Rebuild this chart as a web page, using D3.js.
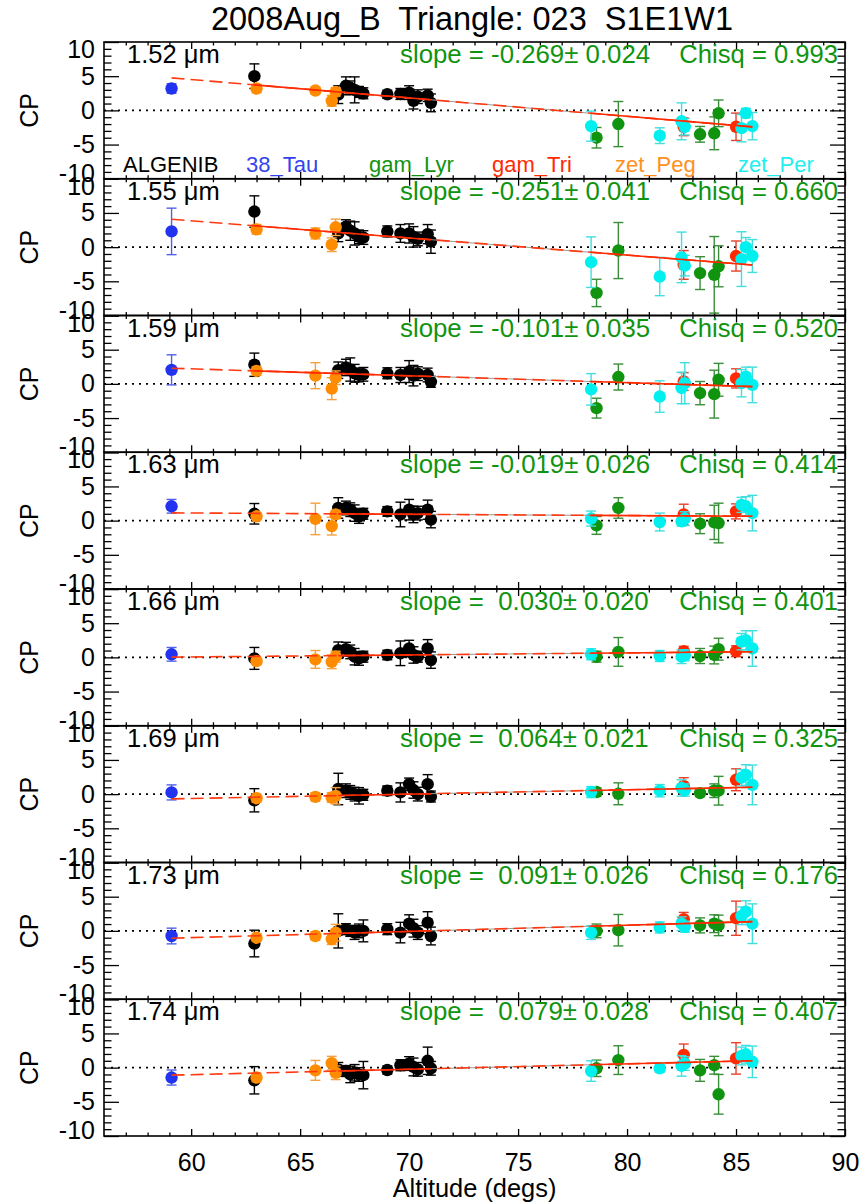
<!DOCTYPE html>
<html>
<head>
<meta charset="utf-8">
<script src="https://cdn.jsdelivr.net/npm/d3@7"></script>
<style>
  body { margin: 0; background: #fff; }
  text { font-family: "Liberation Sans", Arial, Helvetica, sans-serif; }
</style>
</head>
<body>
<div id="chart"></div>
<script>
// star names, in legend order
var stars = ["ALGENIB", "38_Tau", "gam_Lyr", "gam_Tri", "zet_Peg", "zet_Per"];

// altitude of every observation and the star it belongs to
var altitude = [59.1, 62.9, 63.0, 65.7, 66.45, 66.63, 66.75, 67.1, 67.3, 67.5, 67.7, 67.9,
  69.0, 69.6, 70.0, 70.2, 70.4, 70.85, 71.0,
  78.35, 78.6, 79.6, 81.5, 82.5, 82.6, 82.65, 83.35, 84.0, 84.2, 85.0, 85.25, 85.45, 85.75];
var pointStar = ["38_Tau", "ALGENIB", "zet_Peg", "zet_Peg", "zet_Peg", "zet_Peg", "ALGENIB",
  "ALGENIB", "ALGENIB", "ALGENIB", "ALGENIB", "ALGENIB", "ALGENIB", "ALGENIB", "ALGENIB",
  "ALGENIB", "ALGENIB", "ALGENIB", "ALGENIB",
  "zet_Per", "gam_Lyr", "gam_Lyr", "zet_Per", "zet_Per", "gam_Tri", "zet_Per", "gam_Lyr",
  "gam_Lyr", "gam_Lyr", "gam_Tri", "zet_Per", "zet_Per", "zet_Per"];

// one panel per wavelength
var wavelengths = [1.52, 1.55, 1.59, 1.63, 1.66, 1.69, 1.73, 1.74];
var slopes = [-0.269, -0.251, -0.101, -0.019, 0.030, 0.064, 0.091, 0.079];
var slopeErrors = [0.024, 0.041, 0.035, 0.026, 0.020, 0.021, 0.026, 0.028];
var chisq = [0.993, 0.660, 0.520, 0.414, 0.401, 0.325, 0.176, 0.407];
var fitAt70 = [1.82, 1.34, 1.19, 0.93, 0.36, 0.0, -0.08, -0.24];   // fit value at 70 degs
var solidFrom = [62.9, 62.9, 62.9, 66.75, 66.75, 66.75, 66.75, 66.75];

// closure phase (CP) and its error, per panel
var cpValues = [
  [3.2, 5.0, 3.2, 2.9, 1.4, 2.7, 2.3, 3.6, 3.3, 3.0, 2.7, 2.5, 2.35, 2.4, 2.6, 1.4, 2.0, 2.2, 1.1,
   -2.3, -4.0, -2.0, -3.7, -1.6, -2.4, -2.4, -3.5, -3.35, -0.43, -2.4, -2.6, -0.4, -2.3],
  [2.3, 5.2, 2.6, 2.0, 0.35, 2.9, 2.0, 3.0, 2.4, 2.0, 1.5, 1.4, 2.3, 2.0, 2.0, 1.5, 1.2, 1.9, 0.8,
   -2.2, -6.7, -0.5, -4.3, -1.5, -2.6, -2.7, -3.8, -4.05, -2.8, -1.3, -1.75, 0.0, -1.3],
  [2.05, 2.8, 1.9, 1.2, -0.7, 0.9, 2.0, 2.4, 2.1, 1.55, 1.3, 1.4, 1.55, 1.3, 1.8, 1.2, 1.5, 1.3, 0.3,
   -0.8, -3.55, 1.0, -1.85, -0.6, 0.35, 0.1, -1.35, -1.5, 0.6, 0.8, 0.1, 1.05, -0.15],
  [2.1, 1.0, 0.63, 0.25, -0.8, 0.9, 1.85, 1.85, 1.6, 1.1, 0.6, 1.0, 1.35, 0.9, 1.6, 0.9, 1.1, 1.6, 0.15,
   0.3, -0.7, 1.85, -0.2, -0.1, 0.9, 0.3, -0.45, -0.25, -0.35, 1.35, 2.3, 2.1, 1.1],
  [0.45, -0.15, -0.55, -0.3, -0.65, 0.1, 1.05, 1.2, 0.8, 0.1, -0.15, 0.1, 0.35, 0.6, 1.3, 0.35, 0.1, 1.3, -0.4,
   0.45, 0.1, 0.8, 0.2, 0.1, 0.9, 0.3, 0.2, 0.35, 1.2, 0.9, 2.3, 2.5, 1.3],
  [0.25, -0.9, -0.6, -0.4, -0.5, -0.25, 0.75, 0.5, 0.25, 0.0, -0.25, -0.1, 0.5, 0.25, 1.45, 0.6, 0.0, 1.45, -0.35,
   0.3, 0.3, 0.05, 0.5, 0.9, 1.2, 0.6, 0.15, 0.5, 0.5, 2.1, 2.4, 2.8, 1.35],
  [-0.75, -1.85, -1.0, -0.75, -1.2, -0.25, 0.0, 0.25, 0.0, -0.25, 0.0, 0.0, 0.25, -0.25, 1.05, 0.4, -0.25, 1.2, -0.75,
   -0.25, 0.0, 0.1, 0.5, 1.05, 1.7, 0.6, 0.8, 1.05, 0.8, 1.85, 2.2, 2.8, 1.05],
  [-1.45, -1.85, -1.45, -0.4, 0.65, -0.75, -0.25, -0.5, -1.0, -0.75, -1.0, -1.1, -0.35, 0.35, 0.6, 0.1, -0.25, 1.0, -0.1,
   -0.5, -0.1, 1.1, -0.1, 0.25, 1.85, 0.6, -0.4, 0.35, -3.9, 1.35, 1.7, 1.95, 0.85]
];
var cpErrors = [
  [0.7, 1.8, 0.6, 0.5, 0.8, 0.6, 1.3, 1.3, 1.0, 1.9, 0.8, 0.8, 0.6, 0.8, 1.0, 1.2, 1.0, 0.9, 1.3,
   2.2, 1.5, 3.3, 1.15, 2.7, 1.3, 1.2, 1.15, 2.4, 1.95, 2.0, 2.0, 0.7, 2.0],
  [3.4, 2.3, 0.7, 0.8, 1.0, 1.2, 1.2, 1.0, 1.4, 1.7, 1.0, 1.0, 0.8, 1.3, 1.4, 1.5, 1.0, 1.4, 1.7,
   3.7, 2.0, 4.1, 2.8, 3.7, 2.1, 1.5, 2.4, 5.6, 3.0, 2.2, 4.0, 1.4, 2.4],
  [2.2, 1.7, 0.6, 1.9, 1.6, 1.0, 1.2, 1.2, 1.7, 1.3, 1.0, 1.0, 0.8, 1.1, 1.6, 1.5, 1.0, 1.0, 0.8,
   2.3, 1.45, 1.9, 2.3, 2.3, 1.3, 3.0, 1.7, 3.5, 2.4, 1.4, 2.0, 1.4, 2.6],
  [1.0, 1.5, 0.5, 2.3, 1.3, 0.6, 1.5, 1.0, 1.0, 1.2, 1.0, 0.8, 0.7, 1.8, 1.5, 1.2, 1.0, 1.4, 1.2,
   1.1, 1.3, 1.5, 1.3, 0.7, 1.5, 1.0, 1.45, 2.5, 2.9, 1.1, 1.1, 1.4, 2.6],
  [1.0, 1.6, 0.5, 1.3, 1.0, 0.8, 1.2, 1.0, 1.0, 1.2, 1.0, 0.8, 0.7, 1.8, 1.2, 1.2, 0.8, 1.3, 1.2,
   0.8, 0.8, 2.1, 0.8, 1.0, 0.7, 0.8, 1.1, 1.3, 1.6, 0.8, 1.2, 1.4, 2.6],
  [1.1, 1.7, 0.6, 0.6, 0.7, 1.2, 2.3, 1.0, 1.0, 1.0, 1.2, 0.8, 0.7, 1.4, 0.9, 1.2, 1.0, 1.4, 0.8,
   0.8, 0.6, 1.6, 0.9, 1.2, 1.2, 0.9, 0.5, 1.0, 2.1, 1.6, 1.2, 1.5, 2.9],
  [1.15, 1.95, 0.5, 0.6, 0.8, 1.2, 2.5, 0.8, 0.8, 1.0, 1.0, 1.6, 0.8, 1.5, 1.3, 1.3, 1.0, 1.6, 1.3,
   1.0, 1.0, 2.3, 0.8, 1.0, 1.0, 0.8, 1.1, 1.3, 1.5, 2.5, 1.3, 1.6, 2.9],
  [1.1, 2.0, 0.6, 1.45, 1.0, 1.0, 1.0, 0.8, 1.2, 1.2, 1.0, 2.0, 0.6, 0.8, 1.0, 1.3, 1.0, 2.0, 1.0,
   1.5, 1.2, 2.1, 0.6, 1.5, 1.6, 1.0, 1.6, 1.3, 2.9, 2.3, 1.3, 1.3, 2.3]
];

var xTicks = [60, 65, 70, 75, 80, 85, 90];
var yTicks = [-10, -5, 0, 5, 10];

// colours
var starColor = { "ALGENIB": "#000000", "38_Tau": "#2233f0", "gam_Lyr": "#109410",
  "gam_Tri": "#ff2a00", "zet_Peg": "#ff8c00", "zet_Per": "#00f0f0" };
var errColor = { "ALGENIB": "#000000", "38_Tau": "#5060e8", "gam_Lyr": "#3a8e3a",
  "gam_Tri": "#e8402a", "zet_Peg": "#f4a040", "zet_Per": "#40dede" };
var legendColor = { "ALGENIB": "#000000", "38_Tau": "#3344ee", "gam_Lyr": "#109410",
  "gam_Tri": "#ff2a00", "zet_Peg": "#ff9020", "zet_Per": "#22eeee" };
var green = "#109410";

var svgWidth = 867, svgHeight = 1204;
var margin = { top: 42, right: 22, bottom: 68, left: 104 };
var plotW = svgWidth - margin.left - margin.right;
var plotH = svgHeight - margin.top - margin.bottom;
var panelH = plotH / wavelengths.length;

var svg = d3.select("#chart").append("svg")
  .attr("width", svgWidth)
  .attr("height", svgHeight)
  .style("background", "#fff");

var xScale = d3.scaleLinear().domain([56, 90]).range([margin.left, margin.left + plotW]);

// title
svg.append("text")
  .attr("x", 472).attr("y", 30)
  .attr("text-anchor", "middle")
  .attr("font-size", "32.5px")
  .style("white-space", "pre")
  .text("2008Aug_B  Triangle: 023  S1E1W1");

var points = altitude.map(function(a, i) { return { alt: a, star: pointStar[i], idx: i }; });

wavelengths.forEach(function(wl, p) {
  var top = margin.top + p * panelH;
  var bottom = top + panelH;
  var yScale = d3.scaleLinear().domain([-10, 10]).range([bottom, top]);
  var g = svg.append("g");

  // axes: major + minor ticks, pointing inwards
  var minorY = d3.range(-10, 11).filter(function(v) { return v % 5 !== 0; });
  var minorX = d3.range(57, 90).filter(function(v) { return v % 5 !== 0; });

  var yAxisG = g.append("g").attr("transform", "translate(" + margin.left + ",0)")
    .call(d3.axisLeft(yScale).tickValues(yTicks).tickSizeInner(-15).tickSizeOuter(0)
      .tickPadding(9).tickFormat(function(d) { return String(d); }));
  // end labels sit a little inside the frame
  yAxisG.selectAll(".tick text")
    .attr("dy", function(d) { return d === 10 ? "0.62em" : (d === -10 ? "0.1em" : "0.32em"); });

  g.append("g").attr("transform", "translate(" + margin.left + ",0)")
    .call(d3.axisLeft(yScale).tickValues(minorY).tickSizeInner(-7.5).tickSizeOuter(0).tickFormat(""));
  g.append("g").attr("transform", "translate(" + (margin.left + plotW) + ",0)")
    .call(d3.axisRight(yScale).tickValues(yTicks).tickSizeInner(-15).tickSizeOuter(0).tickFormat(""));
  g.append("g").attr("transform", "translate(" + (margin.left + plotW) + ",0)")
    .call(d3.axisRight(yScale).tickValues(minorY).tickSizeInner(-7.5).tickSizeOuter(0).tickFormat(""));

  var last = p === wavelengths.length - 1;
  g.append("g").attr("transform", "translate(0," + bottom + ")")
    .call(d3.axisBottom(xScale).tickValues(xTicks).tickSizeInner(-7).tickSizeOuter(0)
      .tickPadding(17).tickFormat(last ? function(d) { return String(d); } : ""));
  g.append("g").attr("transform", "translate(0," + bottom + ")")
    .call(d3.axisBottom(xScale).tickValues(minorX).tickSizeInner(-3.5).tickSizeOuter(0).tickFormat(""));
  g.append("g").attr("transform", "translate(0," + top + ")")
    .call(d3.axisTop(xScale).tickValues(xTicks).tickSizeInner(-7).tickSizeOuter(0).tickFormat(""));
  g.append("g").attr("transform", "translate(0," + top + ")")
    .call(d3.axisTop(xScale).tickValues(minorX).tickSizeInner(-3.5).tickSizeOuter(0).tickFormat(""));

  g.selectAll(".domain").remove();
  g.selectAll(".tick line").attr("stroke", "#000").attr("stroke-width", 1.3);
  g.selectAll(".tick text").attr("font-size", "25px").attr("fill", "#000")
    .attr("font-family", "Liberation Sans, Arial, sans-serif");

  // frame
  g.append("rect")
    .attr("x", margin.left).attr("y", top)
    .attr("width", plotW).attr("height", panelH)
    .attr("fill", "none").attr("stroke", "#000").attr("stroke-width", 1.6);

  // y label
  g.append("text")
    .attr("transform", "translate(38," + yScale(0) + ") rotate(-90)")
    .attr("text-anchor", "middle")
    .attr("font-size", "25px")
    .text("CP");

  // zero line
  g.append("line")
    .attr("x1", margin.left).attr("x2", margin.left + plotW)
    .attr("y1", yScale(0)).attr("y2", yScale(0))
    .attr("stroke", "#000").attr("stroke-width", 1.6)
    .attr("stroke-dasharray", "2,5");

  // error bars and points, star by star
  stars.forEach(function(s) {
    var pts = points.filter(function(d) { return d.star === s; });
    var eb = g.append("g").attr("stroke", errColor[s]).attr("stroke-width", 1.4);
    pts.forEach(function(d) {
      var v = cpValues[p][d.idx], e = cpErrors[p][d.idx];
      var cx = xScale(d.alt);
      eb.append("line").attr("x1", cx).attr("x2", cx)
        .attr("y1", yScale(v - e)).attr("y2", yScale(v + e));
      eb.append("line").attr("x1", cx - 5).attr("x2", cx + 5)
        .attr("y1", yScale(v - e)).attr("y2", yScale(v - e));
      eb.append("line").attr("x1", cx - 5).attr("x2", cx + 5)
        .attr("y1", yScale(v + e)).attr("y2", yScale(v + e));
    });
    g.selectAll(null).data(pts).enter().append("circle")
      .attr("cx", function(d) { return xScale(d.alt); })
      .attr("cy", function(d) { return yScale(cpValues[p][d.idx]); })
      .attr("r", 6.2)
      .attr("fill", starColor[s]);
  });

  // fit line
  var fit = function(a) { return fitAt70[p] + slopes[p] * (a - 70); };
  var line = d3.line()
    .x(function(a) { return xScale(a); })
    .y(function(a) { return yScale(fit(a)); });
  var x0 = d3.min(altitude), x1 = d3.max(altitude);
  var gapL = 71.0, gapR = 78.35;

  g.append("path").attr("d", line([gapL, gapR]))
    .attr("fill", "none").attr("stroke", "#999").attr("stroke-width", 1);
  g.append("path").attr("d", line([x0, x1]))
    .attr("fill", "none").attr("stroke", "#ff3a10").attr("stroke-width", 1.6)
    .attr("stroke-dasharray", "13,6");
  g.append("path").attr("d", line([solidFrom[p], gapL]))
    .attr("fill", "none").attr("stroke", "#ff2a00").attr("stroke-width", 1.6);
  g.append("path").attr("d", line([gapR, x1]))
    .attr("fill", "none").attr("stroke", "#ff2a00").attr("stroke-width", 1.6);

  // annotations
  g.append("text")
    .attr("x", 127).attr("y", top + 21)
    .attr("font-size", "25.5px")
    .style("white-space", "pre")
    .text(wl.toFixed(2) + " \u03bcm");

  var sl = slopes[p];
  g.append("text")
    .attr("x", 400).attr("y", top + 21)
    .attr("font-size", "25.8px").attr("fill", green)
    .style("white-space", "pre")
    .text("slope = " + (sl < 0 ? "-" : " ") + Math.abs(sl).toFixed(3) + "\u00b1 " + slopeErrors[p].toFixed(3));

  g.append("text")
    .attr("x", 838).attr("y", top + 21)
    .attr("text-anchor", "end")
    .attr("font-size", "25.6px").attr("fill", green)
    .text("Chisq = " + chisq[p].toFixed(3));
});

// legend along the bottom of the first panel
svg.selectAll(".legend")
  .data(stars)
  .enter()
  .append("text")
  .attr("class", "legend")
  .attr("x", function(d, i) { return 123 + i * 123; })
  .attr("y", 172)
  .attr("font-size", "22px")
  .attr("fill", function(d) { return legendColor[d]; })
  .text(function(d) { return d; });

// x axis title
svg.append("text")
  .attr("x", margin.left + plotW / 2).attr("y", 1197)
  .attr("text-anchor", "middle")
  .attr("font-size", "25.4px")
  .text("Altitude (degs)");
</script>
</body>
</html>
